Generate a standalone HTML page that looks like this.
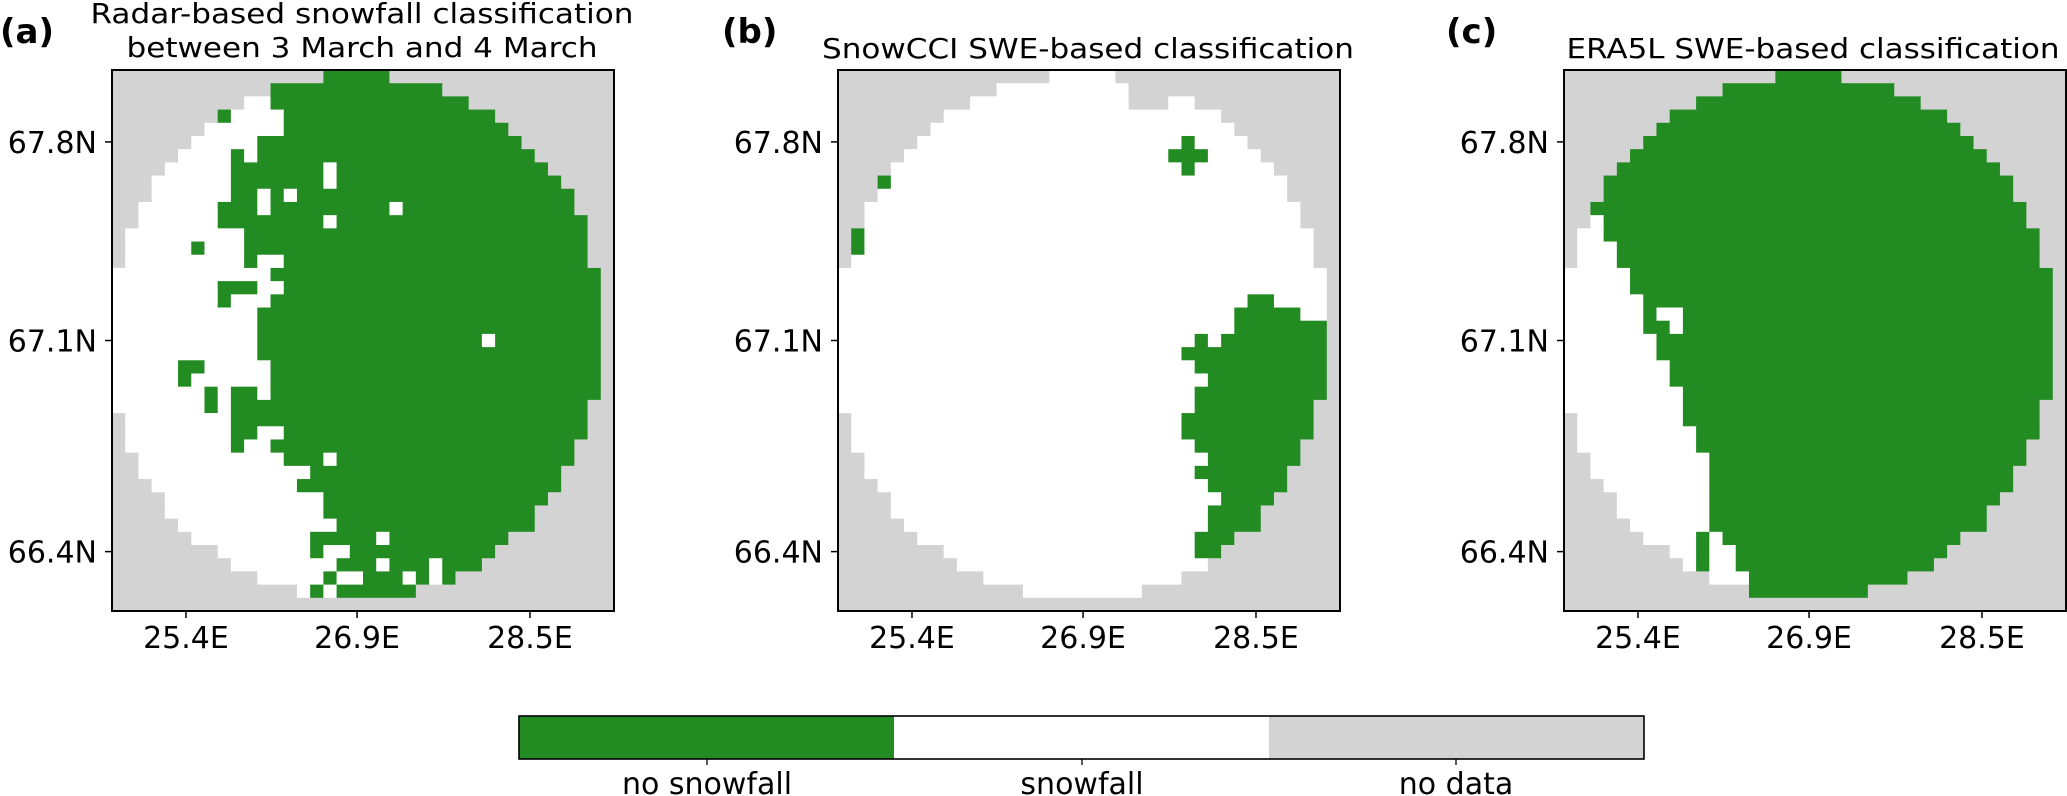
<!DOCTYPE html>
<html><head><meta charset="utf-8"><style>
html,body{margin:0;padding:0;background:#fff;}
svg{display:block;font-family:"DejaVu Sans","Liberation Sans",sans-serif;}
</style></head><body>
<svg id="fig" width="2067" height="796" viewBox="0 0 2067 796" xmlns="http://www.w3.org/2000/svg">
<g id="panels"></g>
<g>
  <rect x="519" y="716" width="375" height="43" fill="#228b22"/>
  <rect x="894" y="716" width="375" height="43" fill="#ffffff"/>
  <rect x="1269" y="716" width="375" height="43" fill="#d3d3d3"/>
  <rect x="519" y="716" width="1125" height="43" fill="none" stroke="#000" stroke-width="1.6"/>
  <line x1="707" y1="759" x2="707" y2="765" stroke="#000" stroke-width="1.3"/>
  <line x1="1082" y1="759" x2="1082" y2="765" stroke="#000" stroke-width="1.3"/>
  <line x1="1456" y1="759" x2="1456" y2="765" stroke="#000" stroke-width="1.3"/>
  <text x="707" y="794" font-size="30" text-anchor="middle">no snowfall</text>
  <text x="1082" y="794" font-size="30" text-anchor="middle">snowfall</text>
  <text x="1456" y="794" font-size="30" text-anchor="middle">no data</text>
</g>
</svg>
<script>
// Classification grids (run-length: n = no data, w = snowfall, g = no snowfall), 38 cols x 41 rows
const gridA = [
"n16 g5 n17","n12 g13 n13","n10 w2 g15 n11","n8 g1 w4 g16 n9","n7 w6 g17 n8",
"n6 w5 g20 n7","n5 w4 g1 w1 g21 n6","n4 w5 g7 w1 g16 n5","n3 w6 g7 w1 g17 n4","n3 w6 g2 w1 g1 w1 g21 n3",
"n2 w6 g3 w1 g9 w1 g13 n3","n2 w6 g8 w1 g19 n2","n1 w9 g26 n2","n1 w5 g1 w3 g26 n2","n1 w9 g1 w2 g23 n2",
"w12 g25 n1","w8 g3 w2 g24 n1","w8 g1 w3 g25 n1","w11 g26 n1","w11 g26 n1",
"w11 g17 w1 g8 n1","w11 g26 n1","w5 g2 w5 g25 n1","w5 g1 w6 g25 n1","w7 g1 w1 g2 w1 g25 n1",
"w7 g1 w1 g27 n2","n1 w8 g27 n2","n1 w8 g2 w2 g23 n2","n1 w8 g1 w2 g23 n3","n2 w11 g3 w1 g18 n3",
"n2 w13 g19 n4","n3 w11 g20 n4","n4 w12 g17 n5","n4 w12 g16 n6","n5 w12 g15 n6",
"n6 w9 g5 w1 g9 n8","n8 w7 g1 w2 g11 n9","n9 w8 g3 w1 g3 w1 g3 n10","n11 w5 g1 w2 g3 w1 g1 w1 g1 n12","n14 w1 g1 w1 g6 n15",
"n38"];
const gridB = [
"n16 w5 n17","n12 w10 n16","n10 w12 n3 w2 n11","n8 w21 n9","n7 w23 n8",
"n6 w20 g1 w4 n7","n5 w20 g3 w4 n6","n4 w22 g1 w6 n5","n3 g1 w30 n4","n3 w31 n4",
"n2 w33 n3","n2 w33 n3","n1 g1 w34 n2","n1 g1 w34 n2","n1 w35 n2",
"w37 n1","w37 n1","w31 g2 w4 n1","w30 g5 w2 n1","w30 g7 n1",
"w27 g1 w1 g8 n1","w26 g11 n1","w27 g10 n1","w28 g9 n1","w27 g10 n1",
"w27 g9 n2","n1 w25 g10 n2","n1 w25 g10 n2","n1 w26 g8 n3","n2 w26 g7 n3",
"n2 w25 g7 n4","n3 w25 g6 n4","n4 w25 g4 n5","n4 w24 g4 n6","n5 w23 g4 n6",
"n6 w21 g3 n8","n8 w19 g2 n9","n9 w19 n10","n11 w15 n12","n14 w9 n15",
"n38"];
const gridC = [
"n16 g5 n17","n12 g13 n13","n10 g17 n11","n8 g21 n9","n7 g23 n8",
"n6 g25 n7","n5 g27 n6","n4 g29 n5","n3 g31 n4","n3 g31 n4",
"n2 g33 n3","n2 w1 g32 n3","n1 w2 g33 n2","n1 w3 g32 n2","n1 w3 g32 n2",
"w5 g32 n1","w5 g32 n1","w6 g31 n1","w6 g1 w2 g28 n1","w6 g2 w1 g28 n1",
"w7 g30 n1","w7 g30 n1","w8 g29 n1","w8 g29 n1","w9 g28 n1",
"w9 g27 n2","n1 w8 g27 n2","n1 w9 g26 n2","n1 w9 g25 n3","n2 w9 g24 n3",
"n2 w9 g23 n4","n3 w8 g23 n4","n4 w7 g22 n5","n4 w7 g21 n6","n5 w6 g21 n6",
"n6 w4 g1 w1 g18 n8","n8 w2 g1 w2 g16 n9","n9 w1 g1 w2 g15 n10","n11 w3 g12 n12","n14 g9 n15",
"n38"];
const panelLabels = ["(a)", "(b)", "(c)"];
const panelTitles = [["Radar-based snowfall classification", "between 3 March and 4 March"], ["SnowCCI SWE-based classification"], ["ERA5L SWE-based classification"]];
const xTickLabels = ["25.4E", "26.9E", "28.5E"];
const xTickCols = [5.6, 18.55, 31.64];
const yTickLabels = ["67.8N", "67.1N", "66.4N"];
const yTickRows = [5.45, 20.5, 36.5];

const NS = "http://www.w3.org/2000/svg";
const COLS = 38, ROWS = 41;
const BOX_W = 502, BOX_H = 541, BOX_TOP = 70;
const boxLefts = [112, 838, 1564];
const colors = {n: "#d3d3d3", w: "#ffffff", g: "#228b22"};
const grids = [gridA, gridB, gridC];
const root = document.getElementById("panels");
function mk(tag, attrs, parent) { const e = document.createElementNS(NS, tag); for (const k in attrs) e.setAttribute(k, attrs[k]); parent.appendChild(e); return e; }

grids.forEach((grid, p) => {
  const x0 = boxLefts[p];
  const cw = BOX_W / COLS, ch = BOX_H / ROWS;
  const xs = c => x0 + c * cw;
  const ys = r => BOX_TOP + r * ch;
  const g = mk("g", {}, root);
  
  
  grid.forEach((row, r) => {
    let c = 0;
    row.split(" ").forEach(tok => {
      const cls = tok[0], n = parseInt(tok.slice(1));
      const rect = mk("rect", {x: xs(c).toFixed(2), y: ys(r).toFixed(2), width: (n * cw + 0.6).toFixed(2), height: (ch + 0.6).toFixed(2), fill: colors[cls]}, g);
      
      
      c += n;
    });
  });
  const frame = mk("rect", {x: x0, y: BOX_TOP, width: BOX_W, height: BOX_H, fill: "none", stroke: "#000", "stroke-width": 2}, g);
  
  
  xTickLabels.forEach((lab, i) => {
    const x = xs(xTickCols[i]);
    mk("line", {x1: x, y1: BOX_TOP + BOX_H, x2: x, y2: BOX_TOP + BOX_H + 7, stroke: "#000", "stroke-width": 1.5}, g);
    const t = mk("text", {x: x, y: 648, "font-size": 30, "text-anchor": "middle"}, g);
    t.textContent = lab;
    
    
  });
  yTickLabels.forEach((lab, i) => {
    const y = ys(yTickRows[i]);
    mk("line", {x1: x0 - 7, y1: y, x2: x0, y2: y, stroke: "#000", "stroke-width": 1.5}, g);
    const t = mk("text", {x: x0 - 15, y: y + 11, "font-size": 30, "text-anchor": "end"}, g);
    t.textContent = lab;
    
    
  });
  const pl = mk("text", {x: [0, 722, 1446][p], y: 43, "font-size": 34, "font-weight": "bold"}, g);
  pl.textContent = panelLabels[p];
  
  
  const lines = panelTitles[p];
  const cx = [362, 1088, 1813][p];
  const widths = lines.length === 2 ? [543, 471] : [[0, 532, 493][p]];
  lines.forEach((ln, i) => {
    const yb = lines.length === 2 ? (i === 0 ? 23 : 57) : 58;
    const t = mk("text", {x: cx, y: yb, "font-size": 28, "text-anchor": "middle", textLength: widths[i], lengthAdjust: "spacingAndGlyphs"}, g);
    t.textContent = ln;
    
    
  });
});
</script>
</body></html>
